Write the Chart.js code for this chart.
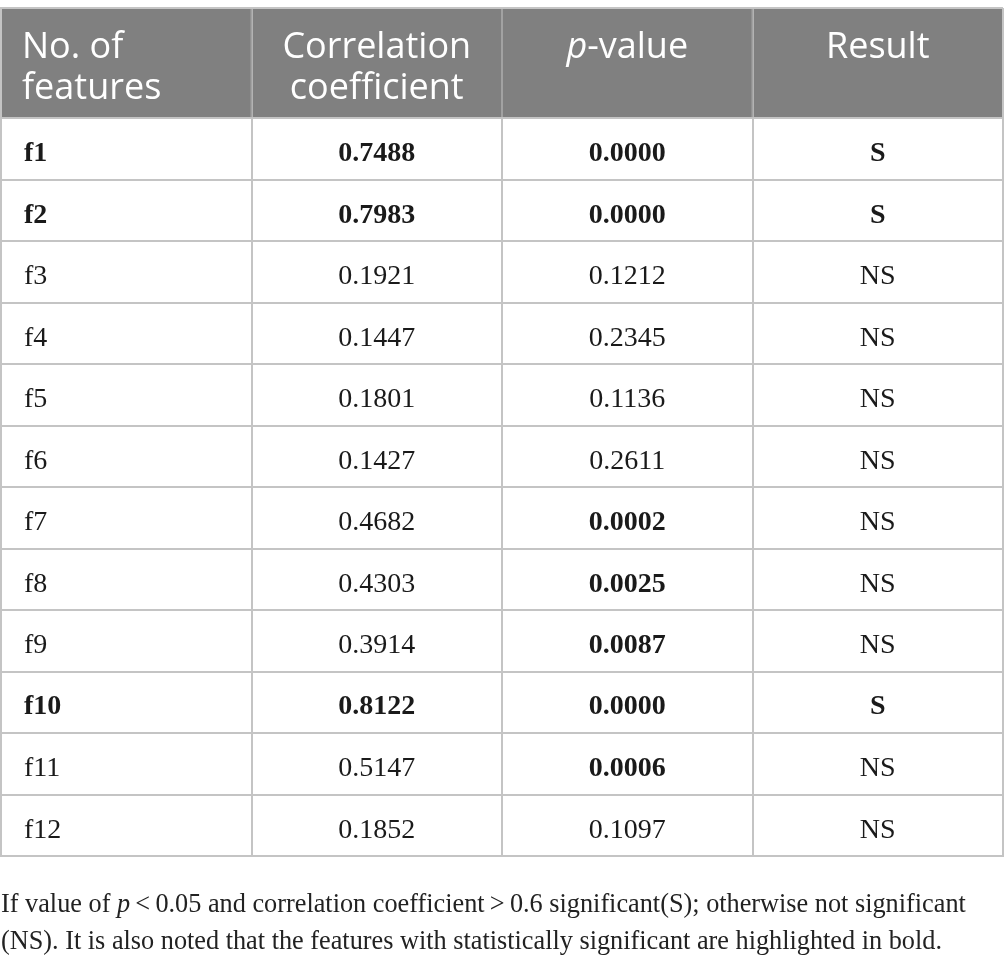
<!DOCTYPE html>
<html>
<head>
<meta charset="utf-8">
<script src="https://cdn.jsdelivr.net/npm/chart.js@4.4.0/dist/chart.umd.min.js"></script>
<style>
html,body{margin:0;padding:0;background:#fff;}
#wrap{width:1004px;height:957px;position:relative;}
</style>
</head>
<body>
<div id="wrap"><canvas id="c"></canvas></div>
<script>
// ---- data ----
const headerLines = [["No. of","features"],["Correlation","coefficient"],["p-value"],["Result"]];
const features = ["f1","f2","f3","f4","f5","f6","f7","f8","f9","f10","f11","f12"];
const corrCoef = [0.7488,0.7983,0.1921,0.1447,0.1801,0.1427,0.4682,0.4303,0.3914,0.8122,0.5147,0.1852];
const pValues  = [0.0000,0.0000,0.1212,0.2345,0.1136,0.2611,0.0002,0.0025,0.0087,0.0000,0.0006,0.1097];
const results  = ["S","S","NS","NS","NS","NS","NS","NS","NS","S","NS","NS"];
const footnote1 = ["If value of ", "p", "\u2009<\u20090.05 and correlation coefficient\u2009>\u20090.6 significant(S); otherwise not significant"];
const footnote2 = "(NS). It is also noted that the features with statistically significant are highlighted in bold.";

// ---- layout constants ----
const HEADER_H = 1.79;           // header height in row units
const NROWS = features.length;
const YMAX = HEADER_H + NROWS;
const HEADER_BG = "#808080";
const GRID = "#c4c4c4";
const SERIF = "'Liberation Serif', 'DejaVu Serif', serif";
const SANS = "'Open Sans', 'Noto Sans', sans-serif";

// build cell points
const cells = [];
features.forEach((f, r) => {
  const sig = results[r] === "S";
  const y = HEADER_H + r + 0.5;
  cells.push({x: 0.5, y, text: f, bold: sig, col: 0});
  cells.push({x: 1.5, y, text: corrCoef[r].toFixed(4), bold: sig, col: 1});
  cells.push({x: 2.5, y, text: pValues[r].toFixed(4), bold: pValues[r] < 0.05, col: 2});
  cells.push({x: 3.5, y, text: results[r], bold: sig, col: 3});
});
const headerCells = headerLines.map((lines, c) => ({x: c + 0.5, y: HEADER_H / 2, lines, col: c}));

const tablePlugin = {
  id: 'tablePlugin',
  beforeDraw(chart) {
    const {ctx, scales: {x, y}} = chart;
    ctx.save();
    ctx.fillStyle = HEADER_BG;
    const x0 = x.getPixelForValue(0), x1 = x.getPixelForValue(4);
    const y0 = y.getPixelForValue(0), y1 = y.getPixelForValue(HEADER_H);
    ctx.fillRect(x0, y0, x1 - x0, y1 - y0);
    ctx.restore();
  },
  beforeDatasetsDraw(chart) {
    const {ctx, scales: {x, y}} = chart;
    ctx.save();
    ctx.strokeStyle = "#a2a2a2";
    ctx.lineWidth = 2;
    const y0 = y.getPixelForValue(0) + 1, y1 = y.getPixelForValue(HEADER_H) - 1;
    for (let c = 1; c < 4; c++) {
      const px = x.getPixelForValue(c);
      ctx.beginPath(); ctx.moveTo(px, y0); ctx.lineTo(px, y1); ctx.stroke();
    }
    ctx.restore();
  },
  afterDatasetsDraw(chart) {
    const {ctx, scales: {x, y}} = chart;
    const meta = chart.getDatasetMeta(0);
    ctx.save();
    ctx.textBaseline = 'middle';
    ctx.fillStyle = "#1a1a1a";
    meta.data.forEach((pt, i) => {
      const d = cells[i];
      ctx.font = (d.bold ? "bold " : "") + "28px " + SERIF;
      if (d.col === 0) {
        ctx.textAlign = 'left';
        ctx.fillText(d.text, x.getPixelForValue(0) + 23, pt.y + 5);
      } else {
        ctx.textAlign = 'center';
        ctx.fillText(d.text, pt.x, pt.y + 5);
      }
    });
    // header
    ctx.fillStyle = "#ffffff";
    const fs = 36, lh = 41;
    headerCells.forEach(h => {
      const cx = x.getPixelForValue(h.x);
      const cy = y.getPixelForValue(h.y);
      const top = cy - 15;
      h.lines.forEach((line, k) => {
        const ly = top + k * lh;
        if (line === "p-value") {
          ctx.font = "italic " + fs + "px " + SANS;
          const w1 = ctx.measureText("p").width;
          ctx.font = fs + "px " + SANS;
          const w2 = ctx.measureText("-value").width;
          const sx = cx - (w1 + w2) / 2;
          ctx.textAlign = 'left';
          ctx.font = "italic " + fs + "px " + SANS;
          ctx.fillText("p", sx, ly);
          ctx.font = fs + "px " + SANS;
          ctx.fillText("-value", sx + w1, ly);
        } else {
          ctx.font = fs + "px " + SANS;
          if (h.col === 0) {
            ctx.textAlign = 'left';
            ctx.fillText(line, x.getPixelForValue(0) + 21, ly);
          } else {
            ctx.textAlign = 'center';
            ctx.fillText(line, cx, ly);
          }
        }
      });
    });
    ctx.restore();
  },
  afterDraw(chart) {
    const {ctx, chartArea} = chart;
    ctx.save();
    ctx.fillStyle = "#222222";
    ctx.textBaseline = 'alphabetic';
    ctx.textAlign = 'left';
    // fit font size so that line 1 spans ~965px
    let fs = 26;
    const measure = (size) => {
      let w = 0;
      ctx.font = size + "px " + SERIF; w += ctx.measureText(footnote1[0]).width;
      ctx.font = "italic " + size + "px " + SERIF; w += ctx.measureText(footnote1[1]).width;
      ctx.font = size + "px " + SERIF; w += ctx.measureText(footnote1[2]).width;
      return w;
    };
    fs = fs * 965 / measure(fs);
    const b1 = chartArea.bottom + 56, b2 = chartArea.bottom + 93;
    let xx = 1;
    ctx.font = fs + "px " + SERIF; ctx.fillText(footnote1[0], xx, b1); xx += ctx.measureText(footnote1[0]).width;
    ctx.font = "italic " + fs + "px " + SERIF; ctx.fillText(footnote1[1], xx, b1); xx += ctx.measureText(footnote1[1]).width;
    ctx.font = fs + "px " + SERIF; ctx.fillText(footnote1[2], xx, b1);
    ctx.fillText(footnote2, 1, b2);
    ctx.restore();
  }
};

new Chart(document.getElementById('c'), {
  type: 'scatter',
  data: {
    datasets: [{
      data: cells.map(c => ({x: c.x, y: c.y})),
      pointRadius: 0,
      pointHoverRadius: 0,
      showLine: false
    }]
  },
  options: {
    responsive: true,
    maintainAspectRatio: false,
    animation: false,
    layout: {padding: {top: 8, left: 1, right: 1, bottom: 957 - 856}},
    plugins: {legend: {display: false}, tooltip: {enabled: false}},
    events: [],
    scales: {
      x: {
        type: 'linear', min: 0, max: 4, position: 'bottom',
        afterBuildTicks: (s) => { s.ticks = [0,1,2,3,4].map(v => ({value: v})); },
        ticks: {display: false},
        grid: {color: GRID, lineWidth: 2, drawTicks: false},
        border: {display: true, color: GRID, width: 2}
      },
      y: {
        type: 'linear', min: 0, max: YMAX, reverse: true,
        afterBuildTicks: (s) => {
          const t = [0, HEADER_H];
          for (let r = 1; r <= NROWS; r++) t.push(HEADER_H + r);
          s.ticks = t.map(v => ({value: v}));
        },
        ticks: {display: false},
        grid: {color: GRID, lineWidth: 2, drawTicks: false},
        border: {display: true, color: GRID, width: 2}
      }
    }
  },
  plugins: [tablePlugin]
});
</script>
</body>
</html>
